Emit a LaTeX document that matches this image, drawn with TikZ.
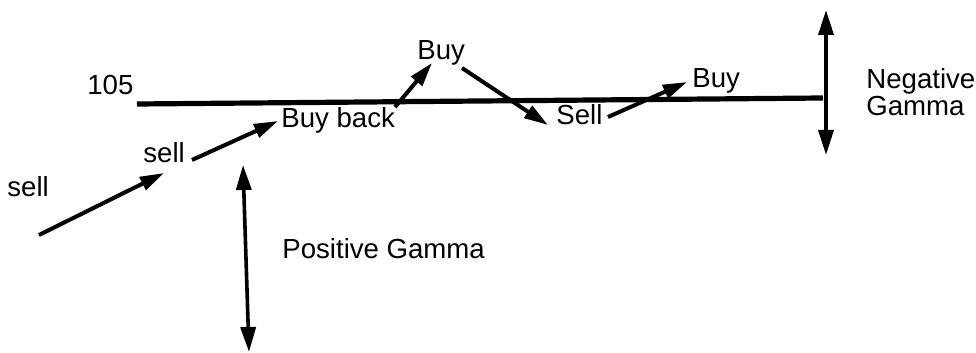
\documentclass[tikz,border=0pt]{standalone}
\usepackage{fontspec}
\setmainfont{Liberation Sans}
\usetikzlibrary{arrows.meta}
\begin{document}
\begin{tikzpicture}[x=0.5pt,y=-0.5pt,
  lbl/.style={anchor=base west,inner sep=0pt,font=\fontsize{13.8}{16}\selectfont},
  arr/.style={line width=2pt,-{Triangle[length=12pt,width=7pt]}},
  darr/.style={line width=1.8pt,{Triangle[length=12.5pt,width=7.5pt]}-{Triangle[length=12.5pt,width=7.5pt]}},
  level/.style={line width=2.6pt}]
\useasboundingbox (0,0) rectangle (976,353);
% labels
\node[lbl] (p105) at (87,95) {105};
\node[lbl] (sellL) at (7,197) {sell};
\node[lbl] (sellM) at (143,163) {sell};
\node[lbl] (buyback) at (281,128) {Buy back};
\node[lbl] (buyT) at (417,60) {Buy};
\node[lbl] (sellR) at (556,125) {Sell};
\node[lbl] (buyR) at (692,88) {Buy};
\node[lbl,anchor=north west,align=left,font=\fontsize{13.8}{12}\selectfont] (neg) at (866,68) {Negative\\Gamma};
\node[lbl] (pos) at (282,258) {Positive Gamma};
% level line
\coordinate (L0) at (137,104);
\coordinate (L1) at (823,98);
\draw[level] (L0) -- (L1);
% gamma arrows
\coordinate (N0) at (826,10);
\coordinate (N1) at (826,155);
\draw[darr] (N0) -- (N1);
\coordinate (P0) at (243,165);
\coordinate (P1) at (249,352);
\draw[darr] (P0) -- (P1);
% trade arrows
\coordinate (a1s) at (39,235);  \coordinate (a1e) at (164,173);
\coordinate (a2s) at (192,160); \coordinate (a2e) at (278,121);
\coordinate (a3s) at (395,107); \coordinate (a3e) at (432,63);
\coordinate (a4s) at (462,68);  \coordinate (a4e) at (548,125);
\coordinate (a5s) at (608,117); \coordinate (a5e) at (687,82);
\draw[arr] (a1s) -- (a1e);
\draw[arr] (a2s) -- (a2e);
\draw[arr] (a3s) -- (a3e);
\draw[arr] (a4s) -- (a4e);
\draw[arr] (a5s) -- (a5e);
\end{tikzpicture}
\end{document}
